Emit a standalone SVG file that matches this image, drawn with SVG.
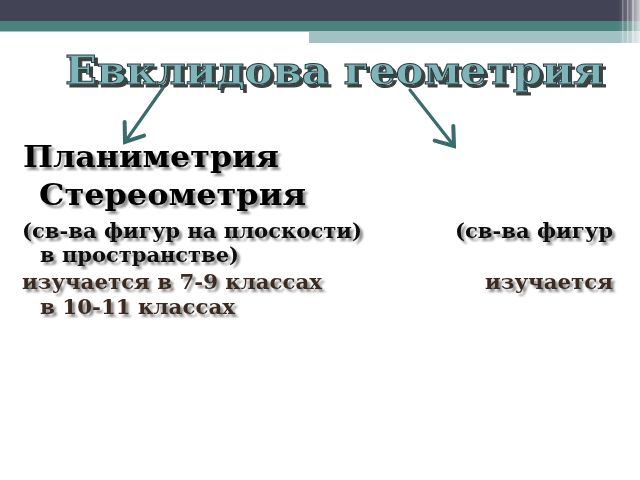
<svg xmlns="http://www.w3.org/2000/svg" width="640" height="480" viewBox="0 0 640 480">
<defs>
<style>
.title{font-family:"DejaVu Serif","Liberation Serif",serif;font-weight:bold;font-size:40px}
.t{font-family:"DejaVu Serif","Liberation Serif",serif;font-weight:bold}
.big{font-size:30px;fill:#000}
.mid{font-size:20px;fill:#111}
.brown{font-size:20px;fill:#3b2a20}
.conn{stroke:#3a6b6d;stroke-width:3.2;fill:none;stroke-linecap:round}
</style>
<filter id="sh" x="-5%" y="-20%" width="115%" height="150%">
<feGaussianBlur in="SourceAlpha" stdDeviation="1.2"/>
<feOffset dx="2.5" dy="2.5" result="b"/>
<feComponentTransfer><feFuncA type="linear" slope="0.45"/></feComponentTransfer>
<feMerge><feMergeNode/><feMergeNode in="SourceGraphic"/></feMerge>
</filter>
<filter id="tsh" x="-5%" y="-20%" width="115%" height="150%">
<feGaussianBlur in="SourceAlpha" stdDeviation="0.6"/>
<feOffset dx="2.5" dy="2.5"/>
<feComponentTransfer><feFuncA type="linear" slope="0.75"/></feComponentTransfer>
<feMerge><feMergeNode/><feMergeNode in="SourceGraphic"/></feMerge>
</filter>
<marker id="ah" markerUnits="userSpaceOnUse" markerWidth="30" markerHeight="30" viewBox="-16 -12 20 24" refX="0" refY="0" orient="auto">
<path d="M-13,-9.5 L0,0 L-13,9.5" fill="none" stroke="#3a6b6d" stroke-width="3.2" stroke-linecap="round" stroke-linejoin="miter"/>
</marker>
<linearGradient id="edge" x1="0" y1="0" x2="1" y2="0">
<stop offset="0" stop-color="#fff" stop-opacity="0"/>
<stop offset="0.5" stop-color="#fff" stop-opacity="0.25"/>
<stop offset="1" stop-color="#fff" stop-opacity="0.75"/>
</linearGradient>
</defs>
<rect width="640" height="480" fill="#fff"/>
<g id="header">
<rect x="0" y="0" width="640" height="21" fill="#424456"/>
<rect x="0" y="21" width="640" height="10.5" fill="#4a8280"/>
<rect x="309" y="31.5" width="331" height="11.5" fill="#a3c0c2"/>
<rect x="618" y="0" width="22" height="44" fill="url(#edge)"/>
<rect x="622" y="0" width="1.5" height="44" fill="#fff" opacity="0.3"/>
<rect x="627" y="0" width="1.5" height="44" fill="#fff" opacity="0.35"/>
<rect x="632" y="0" width="2" height="44" fill="#fff" opacity="0.4"/>
</g>
<g id="title" filter="url(#tsh)">
<text class="title" x="65" y="84" fill="#7fb5b9" stroke="#1f3d3f" stroke-width="1" textLength="539" lengthAdjust="spacingAndGlyphs">Евклидова геометрия</text>
</g>
<g id="connectors">
<line class="conn" x1="163" y1="88" x2="125" y2="142" marker-end="url(#ah)"/>
<line class="conn" x1="410" y1="90" x2="454" y2="146" marker-end="url(#ah)"/>
</g>
<g id="planimetry" filter="url(#sh)">
<text class="t big" x="23" y="167" textLength="256" lengthAdjust="spacingAndGlyphs">Планиметрия</text>
</g>
<g id="stereometry" filter="url(#sh)">
<text class="t big" x="39" y="205" textLength="267" lengthAdjust="spacingAndGlyphs">Стереометрия</text>
</g>
<g id="properties" filter="url(#sh)">
<text class="t mid" x="22" y="238" textLength="340" lengthAdjust="spacingAndGlyphs">(св-ва фигур на плоскости)</text>
<text class="t mid" x="455" y="238" textLength="158" lengthAdjust="spacingAndGlyphs">(св-ва фигур</text>
<text class="t mid" x="40" y="262" textLength="199" lengthAdjust="spacingAndGlyphs">в пространстве)</text>
</g>
<g id="classes" filter="url(#sh)">
<text class="t brown" x="22" y="289" textLength="300" lengthAdjust="spacingAndGlyphs">изучается в 7-9 классах</text>
<text class="t brown" x="485" y="289" textLength="128" lengthAdjust="spacingAndGlyphs">изучается</text>
<text class="t brown" x="40" y="314" textLength="195" lengthAdjust="spacingAndGlyphs">в 10-11 классах</text>
</g>
</svg>
